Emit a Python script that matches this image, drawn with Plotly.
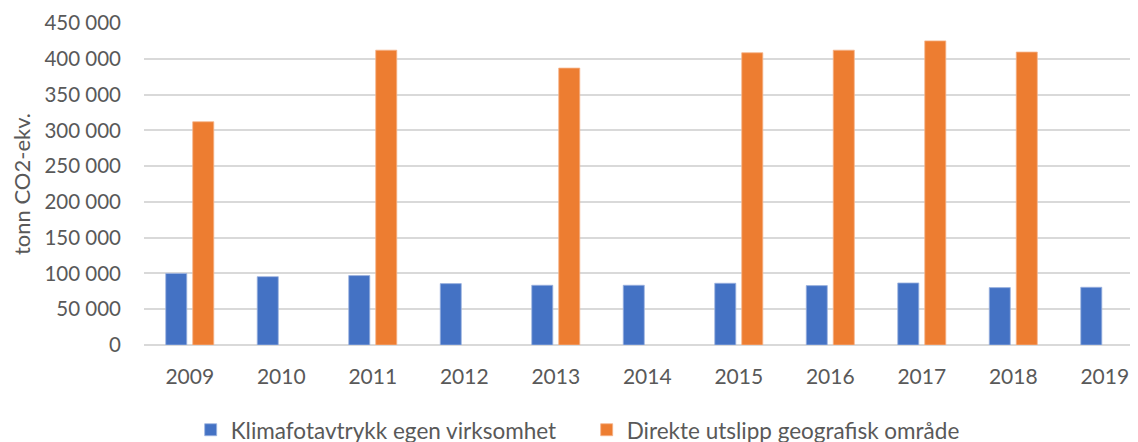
import plotly.graph_objects as go

years = ["2009", "2010", "2011", "2012", "2013", "2014", "2015", "2016", "2017", "2018", "2019"]
klimafotavtrykk = [100000, 95500, 97000, 85800, 83500, 83500, 86300, 83000, 86700, 80200, 80700]
direkte_utslipp = [312000, None, 412000, None, 387000, None, 408400, 412000, 425000, 409400, None]

series_names = ["Klimafotavtrykk egen virksomhet", "Direkte utslipp geografisk område"]
y_ticks = list(range(0, 450001, 50000))

blue = "#4472C4"
orange = "#ED7D31"
text_col = "#595959"
font_family = "Lato, Carlito, Calibri, sans-serif"

fig = go.Figure()
fig.add_trace(go.Bar(x=years, y=klimafotavtrykk, name=series_names[0],
                     marker=dict(color=blue, line=dict(color="#9DB4E0", width=0.8))))
fig.add_trace(go.Bar(x=years, y=direkte_utslipp, name=series_names[1],
                     marker=dict(color=orange, line=dict(color="#F5B48A", width=0.8))))

fig.update_layout(
    width=1138, height=442,
    margin=dict(l=136, r=8, t=15, b=105, autoexpand=False),
    paper_bgcolor="white", plot_bgcolor="white",
    barmode="group", bargap=0.41, bargroupgap=0.22,
    separators=", ",
    font=dict(family=font_family, size=20, color=text_col),
    showlegend=True,
    legend=dict(orientation="h", xref="container", yref="container",
                x=0.5085, xanchor="center", y=0.045, yanchor="middle",
                font=dict(size=22.5, color=text_col),
                entrywidth=351, entrywidthmode="pixels",
                itemwidth=30, traceorder="normal"),
)
fig.update_xaxes(type="category", range=[-0.5, 10.363], showgrid=False,
                 showline=False, zeroline=False, ticks="", automargin=False,
                 ticklabelstandoff=17, tickfont=dict(size=21, color=text_col))
fig.update_yaxes(range=[0, 450000], tickvals=y_ticks, tickformat=",d",
                 showgrid=True, gridcolor="#D9D9D9", gridwidth=1.5,
                 zeroline=True, zerolinecolor="#D9D9D9", zerolinewidth=1.5,
                 showline=False, ticks="", ticklabelstandoff=22, automargin=False,
                 tickfont=dict(size=20.5, color=text_col),
                 title=dict(text="tonn CO2-ekv.", standoff=22,
                            font=dict(size=22, color=text_col)))

fig.write_html("out.html")
